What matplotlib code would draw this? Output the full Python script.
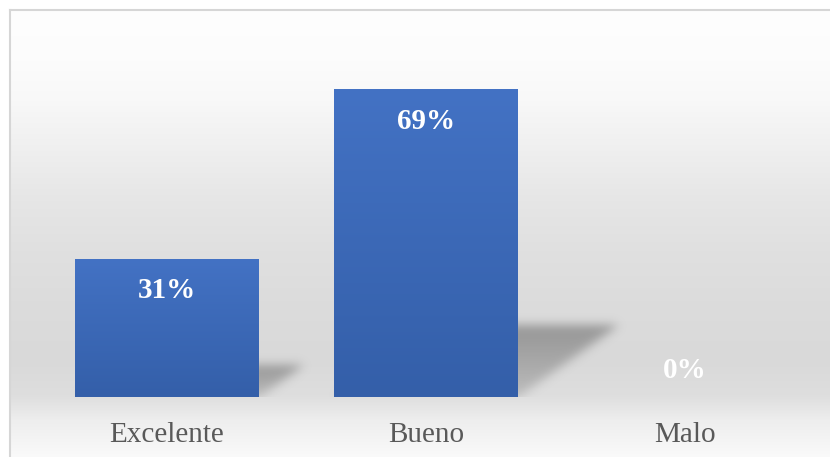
import numpy as np
import matplotlib.pyplot as plt
from matplotlib.lines import Line2D

categories = ["Excelente", "Bueno", "Malo"]
values = [31, 69, 0]

W, H, DPI = 830, 457, 100
fig = plt.figure(figsize=(W / DPI, H / DPI), dpi=DPI, facecolor="white")

# chart area background: white at the top, grey towards the baseline, lighter again below
rows = np.arange(H - 10) + 10
stops_y = [10, 60, 100, 150, 200, 250, 300, 360, 395, 420, 457]
stops_c = [254, 252, 248, 239, 230, 224, 220, 217, 222, 238, 250]
shade = np.interp(rows, stops_y, stops_c) / 255
bg = np.repeat(np.repeat(shade[:, None, None], W - 9, axis=1), 3, axis=2)
fig.figimage(bg, xo=9, yo=0, origin="upper", zorder=0)

# chart border: only the top and left edges fall inside the image
bx, by = 9.5 / W, 1 - 9.5 / H
fig.add_artist(Line2D([bx, 1.0], [by, by], transform=fig.transFigure,
                      color="#d6d6d6", linewidth=1.5, zorder=1))
fig.add_artist(Line2D([bx, bx], [0.0, by], transform=fig.transFigure,
                      color="#d6d6d6", linewidth=1.5, zorder=1))

# plot area in pixels
left, right, base, top = 37.5, 814.5, 397, 40
ax = fig.add_axes([left / W, (H - base) / H, (right - left) / W, (base - top) / H])
ax.set_zorder(2)
ax.set_xlim(-0.5, 2.5)
ax.set_ylim(0, 80)
ax.patch.set_alpha(0)
for s in ax.spines.values():
    s.set_visible(False)
ax.set_yticks([])

width = 0.707
nx, ny = int(right - left), int(base - top)
ppx = nx / 3.0
ppy = ny / 80.0

# perspective shadows behind the bars, darker along their far edge
Xp, Yp = np.meshgrid(np.arange(nx) + 0.5, np.arange(ny) + 0.5)
alpha = np.zeros((ny, nx))
for i, v in enumerate(values):
    if v <= 0:
        continue
    hs = 0.234 * v * ppy
    x0 = (i + 0.5 - width / 2) * ppx
    x1 = (i + 0.5 + width / 2) * ppx
    m = (Yp <= hs) & (Xp >= x0 + 1.4 * Yp) & (Xp <= x1 + 1.4 * Yp)
    alpha = np.maximum(alpha, m * 0.62 * (0.45 + 0.55 * Yp / hs))

sig = 5
k = np.exp(-0.5 * (np.arange(-3 * sig, 3 * sig + 1) / sig) ** 2)
k /= k.sum()
alpha = np.apply_along_axis(lambda r: np.convolve(r, k, mode="same"), 1, alpha)
alpha = np.apply_along_axis(lambda c: np.convolve(c, k, mode="same"), 0, alpha)
shadow = np.zeros((ny, nx, 4))
shadow[..., :3] = 0.42
shadow[..., 3] = alpha
ax.imshow(shadow, extent=(-0.5, 2.5, 0, 80), origin="lower", aspect="auto", zorder=1)

# bars with a vertical blue gradient
top_c = np.array([0x43, 0x72, 0xc4]) / 255
bot_c = np.array([0x34, 0x5f, 0xa9]) / 255
t = np.linspace(0, 1, 256)[:, None, None]
grad = bot_c * (1 - t) + top_c * t
bars = ax.bar(range(len(values)), values, width=width, color="none", edgecolor="none", zorder=2)
for b, v in zip(bars, values):
    if v <= 0:
        continue
    x = b.get_x()
    im = ax.imshow(np.repeat(grad, 2, axis=1), extent=(x, x + width, 0, v),
                   origin="lower", aspect="auto", zorder=2)
    im.set_clip_path(b)

for i, v in enumerate(values):
    off = -32 if v > 0 else 27
    ax.annotate(f"{v}%", (i, v), xytext=(0, off), textcoords="offset pixels",
                ha="center", va="center", color="white", fontsize=21,
                fontweight="bold", family="Liberation Serif", zorder=3)

ax.set_xticks(range(len(categories)))
ax.set_xticklabels(categories, family="Liberation Serif", fontsize=21, color="#595959")
ax.tick_params(axis="x", length=0, pad=18)

fig.savefig("out.png", dpi=DPI)
